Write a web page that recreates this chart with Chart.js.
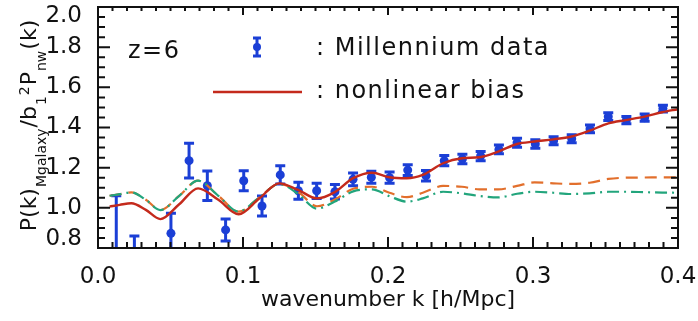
<!DOCTYPE html>
<html>
<head>
<meta charset="utf-8">
<script src="https://cdn.jsdelivr.net/npm/chart.js@4.4.1/dist/chart.umd.min.js"></script>
<style>
	html, body { margin: 0; padding: 0; background: #fff; }
	canvas { display: block; }
</style>
</head>
<body>
<canvas id="myChart" width="698" height="321"></canvas>
<script>
// Millennium run points, k = n * 2pi/500
var kData = [0.0126, 0.0251, 0.0377, 0.0503, 0.0628, 0.0754, 0.0880, 0.1005, 0.1131, 0.1257,
	0.1382, 0.1508, 0.1634, 0.1759, 0.1885, 0.2011, 0.2136, 0.2262, 0.2388, 0.2513,
	0.2639, 0.2765, 0.2890, 0.3016, 0.3142, 0.3267, 0.3393, 0.3519, 0.3644, 0.3770, 0.3896];
var pData = [0.70, 0.72, null, 0.873, 1.235, 1.110, 0.890, 1.135, 1.009, 1.164,
	1.085, 1.085, 1.080, 1.142, 1.152, 1.150, 1.188, 1.160, 1.235, 1.243,
	1.258, 1.291, 1.324, 1.318, 1.334, 1.344, 1.393, 1.454, 1.437, 1.449, 1.494];
var pErr = [0.36, 0.14, null, 0.10, 0.086, 0.073, 0.055, 0.05, 0.05, 0.045,
	0.042, 0.038, 0.036, 0.032, 0.030, 0.028, 0.027, 0.026, 0.025, 0.024,
	0.023, 0.022, 0.022, 0.021, 0.020, 0.020, 0.019, 0.019, 0.018, 0.018, 0.017];

// model curves
var kCurve = [0.008, 0.015, 0.023, 0.033, 0.043, 0.056, 0.069, 0.083, 0.097, 0.111,
	0.125, 0.138, 0.151, 0.163, 0.176, 0.189, 0.201, 0.213, 0.224, 0.238,
	0.251, 0.263, 0.276, 0.289, 0.301, 0.314, 0.326, 0.339, 0.352, 0.364,
	0.377, 0.389, 0.400];
var nonlinBias = [1.006, 1.015, 1.023, 0.990, 0.944, 1.018, 1.097, 1.040, 0.968, 1.045,
	1.122, 1.089, 1.047, 1.077, 1.148, 1.175, 1.152, 1.147, 1.164, 1.222,
	1.247, 1.252, 1.280, 1.318, 1.330, 1.341, 1.354, 1.384, 1.421, 1.437,
	1.454, 1.476, 1.491];
var dashedCurve = [1.060, 1.068, 1.077, 1.040, 0.989, 1.060, 1.135, 1.060, 0.981, 1.050,
	1.119, 1.080, 1.008, 1.040, 1.095, 1.105, 1.075, 1.053, 1.075, 1.109,
	1.105, 1.092, 1.092, 1.109, 1.127, 1.122, 1.119, 1.125, 1.144, 1.150,
	1.151, 1.152, 1.152];
var dashDotCurve = [1.060, 1.068, 1.077, 1.040, 0.989, 1.060, 1.135, 1.060, 0.981, 1.050,
	1.119, 1.069, 0.996, 1.030, 1.082, 1.092, 1.058, 1.031, 1.047, 1.080,
	1.072, 1.059, 1.052, 1.070, 1.080, 1.075, 1.069, 1.072, 1.080, 1.080,
	1.078, 1.076, 1.075];

var xMin = 0.0, xMax = 0.4, xStep = 0.1;
var yMin = 0.8, yMax = 2.0, yStep = 0.2;

var blue = '#1b3fd6';
var red = '#c42a1c';
var orange = '#e26f2c';
var green = '#22a57c';
var ink = '#111';
var fontName = '"DejaVu Sans", sans-serif';

function pairs(xs, ys) {
	var out = [];
	for (let i = 0; i < xs.length; i++) {
		out.push({x: xs[i], y: ys[i]});
	}
	return out;
};

// error bars under the points
var errorBars = {
	id: 'errorBars',
	beforeDatasetsDraw: function(chart) {
		var ctx = chart.ctx, a = chart.chartArea;
		var xs = chart.scales.x, ys = chart.scales.y;
		ctx.save();
		ctx.beginPath();
		ctx.rect(a.left, a.top, a.right - a.left, a.bottom - a.top);
		ctx.clip();
		ctx.strokeStyle = blue;
		ctx.lineWidth = 3;
		ctx.beginPath();
		for (let i = 0; i < kData.length; i++) {
			if (pData[i] === null) continue;
			var px = xs.getPixelForValue(kData[i]);
			var top = ys.getPixelForValue(pData[i] + pErr[i]);
			var bot = ys.getPixelForValue(pData[i] - pErr[i]);
			ctx.moveTo(px, top); ctx.lineTo(px, bot);
			ctx.moveTo(px - 5, top); ctx.lineTo(px + 5, top);
			ctx.moveTo(px - 5, bot); ctx.lineTo(px + 5, bot);
		}
		ctx.stroke();
		ctx.restore();
	}
};

// closed box with inward ticks on all four sides
var boxTicks = {
	id: 'boxTicks',
	afterDatasetsDraw: function(chart) {
		var ctx = chart.ctx, a = chart.chartArea;
		var xs = chart.scales.x, ys = chart.scales.y;
		ctx.save();
		ctx.strokeStyle = ink;
		ctx.lineWidth = 2;
		ctx.strokeRect(a.left, a.top, a.right - a.left, a.bottom - a.top);
		ctx.beginPath();
		for (let i = 0; i <= 40; i++) {
			var px = xs.getPixelForValue(i * 0.01);
			var major = i % 10 === 0;
			ctx.moveTo(px, a.bottom); ctx.lineTo(px, a.bottom - (major ? 11 : 6));
			ctx.moveTo(px, a.top); ctx.lineTo(px, a.top + (major ? 8 : 4));
		}
		for (let j = 0; j <= 24; j++) {
			var py = ys.getPixelForValue(yMin + j * 0.05);
			var major = j % 4 === 0;
			ctx.moveTo(a.left, py); ctx.lineTo(a.left + (major ? 12 : 7), py);
			ctx.moveTo(a.right, py); ctx.lineTo(a.right - (major ? 12 : 7), py);
		}
		ctx.stroke();
		ctx.restore();
	}
};

// y title with sub/superscripts, plus the in-plot key
var labels = {
	id: 'labels',
	afterDraw: function(chart) {
		var ctx = chart.ctx;
		ctx.save();
		ctx.fillStyle = ink;

		// P(k)_Mgalaxy / b_1^2 P_nw(k), read bottom to top
		var parts = [['P(k)', 0], ['Mgalaxy', 1], ['/b', 0], ['1', 1], ['2', -1], ['P', 0], ['nw', 1], ['(k)', 0]];
		var total = 0;
		for (let i = 0; i < parts.length; i++) {
			ctx.font = (parts[i][1] === 0 ? 22 : 14) + 'px ' + fontName;
			parts[i].push(ctx.measureText(parts[i][0]).width + 1);
			total += parts[i][2];
		}
		ctx.translate(36, 125);
		ctx.rotate(-Math.PI / 2);
		ctx.textBaseline = 'alphabetic';
		var pos = -total / 2;
		for (let i = 0; i < parts.length; i++) {
			var lvl = parts[i][1];
			ctx.font = (lvl === 0 ? 22 : 14) + 'px ' + fontName;
			ctx.fillText(parts[i][0], pos, lvl === 0 ? 0 : (lvl > 0 ? 10 : -7));
			pos += parts[i][2];
		}
		ctx.setTransform(1, 0, 0, 1, 0, 0);

		ctx.font = '24px ' + fontName;
		ctx.letterSpacing = '1.5px';
		ctx.textBaseline = 'alphabetic';
		ctx.fillText('z=6', 128, 58);
		ctx.fillText(': Millennium data', 316, 55);
		ctx.fillText(': nonlinear bias', 316, 98);

		// key symbols
		ctx.strokeStyle = blue;
		ctx.lineWidth = 3;
		ctx.beginPath();
		ctx.moveTo(257, 38); ctx.lineTo(257, 56);
		ctx.moveTo(253, 38); ctx.lineTo(261, 38);
		ctx.moveTo(253, 56); ctx.lineTo(261, 56);
		ctx.stroke();
		ctx.fillStyle = blue;
		ctx.beginPath();
		ctx.arc(257, 47, 4, 0, Math.PI * 2);
		ctx.fill();

		ctx.strokeStyle = red;
		ctx.lineWidth = 2.5;
		ctx.beginPath();
		ctx.moveTo(213, 92); ctx.lineTo(302, 92);
		ctx.stroke();
		ctx.restore();
	}
};

var ctx = document.getElementById('myChart');
var chart = new Chart(ctx, {
	type: 'line',
	data: {
		datasets: [{
			label: 'nonlinear bias',
			data: pairs(kCurve, nonlinBias),
			borderColor: red,
			borderWidth: 2.4,
			pointRadius: 0,
			cubicInterpolationMode: 'monotone',
			order: 0
		}, {
			label: 'dashed',
			data: pairs(kCurve, dashedCurve),
			borderColor: orange,
			borderWidth: 2.2,
			borderDash: [12, 7],
			pointRadius: 0,
			cubicInterpolationMode: 'monotone',
			order: 2
		}, {
			label: 'dash-dot',
			data: pairs(kCurve, dashDotCurve),
			borderColor: green,
			borderWidth: 2.2,
			borderDash: [12, 5, 2, 5],
			pointRadius: 0,
			cubicInterpolationMode: 'monotone',
			order: 1
		}, {
			label: 'Millennium data',
			data: pairs(kData, pData),
			showLine: false,
			pointRadius: 4.5,
			pointBackgroundColor: blue,
			pointBorderColor: blue,
			pointBorderWidth: 0,
			order: 3
		}]
	},
	options: {
		responsive: false,
		animation: false,
		events: [],
		layout: { padding: { top: 7, right: 20, left: 0, bottom: 0 } },
		plugins: { legend: { display: false }, tooltip: { enabled: false } },
		scales: {
			x: {
				type: 'linear',
				min: xMin, max: xMax,
				grid: { display: false },
				border: { display: false },
				ticks: {
					stepSize: xStep,
					padding: 11,
					color: ink,
					maxRotation: 0,
					font: { family: fontName, size: 23, lineHeight: 0.85 },
					callback: function(v) { return v.toFixed(1); }
				},
				title: {
					display: true,
					text: 'wavenumber k [h/Mpc]',
					color: ink,
					font: { family: fontName, size: 22, lineHeight: 1.2 },
					padding: { top: 0, bottom: 8 }
				},
				afterFit: function(s) { s.height = 73; s.paddingLeft = 0; s.paddingRight = 0; }
			},
			y: {
				min: yMin, max: yMax,
				grid: { display: false },
				border: { display: false },
				ticks: {
					stepSize: yStep,
					padding: 8,
					color: ink,
					font: { family: fontName, size: 23, lineHeight: 0.8 },
					callback: function(v) {
						var s = v.toFixed(1);
						// end labels are nudged inside the frame
						if (Math.abs(v - yMax) < 1e-6) return ['', s];
						if (Math.abs(v - yMin) < 1e-6) return [s, ''];
						return s;
					}
				},
				afterFit: function(s) { s.width = 98; s.paddingTop = 0; s.paddingBottom = 0; }
			}
		}
	},
	plugins: [errorBars, boxTicks, labels]
});
</script>
</body>
</html>
